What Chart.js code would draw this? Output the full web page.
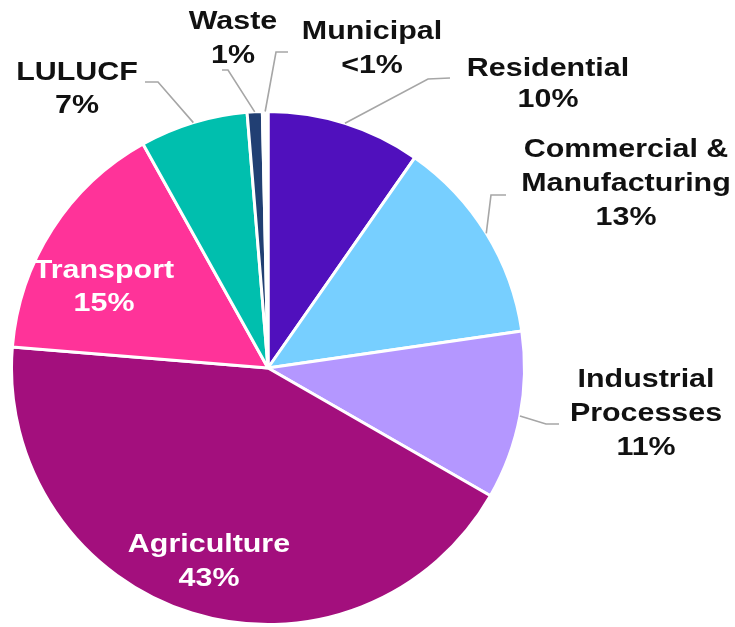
<!DOCTYPE html>
<html>
<head>
<meta charset="utf-8">
<script src="https://cdn.jsdelivr.net/npm/chart.js@4"></script>
<style>
    html, body { margin: 0; padding: 0; background: #fff; }
    #wrap { width: 735px; height: 627px; }
</style>
</head>
<body>
<div id="wrap"><canvas id="chart" width="735" height="627"></canvas></div>
<script>
// データ
const sectors = ['Residential', 'Commercial & Manufacturing', 'Industrial Processes', 'Agriculture', 'Transport', 'LULUCF', 'Waste', 'Municipal'];
const shares = [9.7, 13.0, 10.6, 43.0, 15.6, 6.8, 0.95, 0.35];
const shareLabels = ['10%', '13%', '11%', '43%', '15%', '7%', '1%', '<1%'];
const sliceColors = ['#5010bd', '#77cfff', '#b497ff', '#a30f7d', '#ff3399', '#00bfae', '#213f73', '#ffffff'];

// ラベル配置（テキスト行、中心位置、行間、引き出し線）
const labelLayout = [
    { lines: ['Residential'], x: 548, y: 69, gap: 31, inside: false, elbow: [428, 79], end: [450, 78] },
    { lines: ['Commercial &', 'Manufacturing'], x: 626, y: 150, gap: 34, inside: false, elbow: [491, 195], end: [506, 195] },
    { lines: ['Industrial', 'Processes'], x: 646, y: 380, gap: 34, inside: false, elbow: [546, 424], end: [559, 424] },
    { lines: ['Agriculture'], x: 209, y: 545, gap: 34, inside: true },
    { lines: ['Transport'], x: 104, y: 271, gap: 33, inside: true },
    { lines: ['LULUCF'], x: 77, y: 73, gap: 33, inside: false, elbow: [158, 82], end: [145, 82] },
    { lines: ['Waste'], x: 233, y: 22, gap: 34, inside: false, elbow: [228, 70], end: [222, 70] },
    { lines: ['Municipal'], x: 372, y: 32, gap: 34, inside: false, elbow: [276, 52], end: [288, 52] }
];

const stretchX = 1.17;

// ラベル描画プラグイン
const sliceLabels = {
    id: 'sliceLabels',
    afterDatasetsDraw(chart) {
        const ctx = chart.ctx;
        const meta = chart.getDatasetMeta(0);
        ctx.save();
        meta.data.forEach((arc, i) => {
            const lay = labelLayout[i];
            const p = arc.getProps(['x', 'y', 'startAngle', 'endAngle', 'outerRadius'], true);
            const mid = (p.startAngle + p.endAngle) / 2;
            if (!lay.inside) {
                // 引き出し線
                const ex = p.x + Math.cos(mid) * p.outerRadius;
                const ey = p.y + Math.sin(mid) * p.outerRadius;
                ctx.strokeStyle = '#a6a6a6';
                ctx.lineWidth = 1.6;
                ctx.beginPath();
                ctx.moveTo(ex, ey);
                ctx.lineTo(lay.elbow[0], lay.elbow[1]);
                ctx.lineTo(lay.end[0], lay.end[1]);
                ctx.stroke();
            }
            ctx.fillStyle = lay.inside ? '#ffffff' : '#111111';
            ctx.font = 'bold 26px "Liberation Sans", Arial, sans-serif';
            ctx.textAlign = 'center';
            ctx.textBaseline = 'middle';
            const rows = lay.lines.concat([shareLabels[i]]);
            rows.forEach((t, k) => {
                ctx.save();
                ctx.translate(lay.x, lay.y + k * lay.gap);
                ctx.scale(stretchX, 1);
                ctx.fillText(t, 0, 0);
                ctx.restore();
            });
        });
        ctx.restore();
    }
};

new Chart(document.getElementById('chart'), {
    type: 'pie',
    data: {
        labels: sectors,
        datasets: [{
            data: shares,
            backgroundColor: sliceColors,
            borderColor: '#ffffff',
            borderWidth: 3
        }]
    },
    options: {
        responsive: false,
        animation: false,
        layout: {
            padding: { left: 10, right: 209, top: 110, bottom: 1 }
        },
        plugins: {
            legend: { display: false },
            tooltip: { enabled: false }
        }
    },
    plugins: [sliceLabels]
});
</script>
</body>
</html>
